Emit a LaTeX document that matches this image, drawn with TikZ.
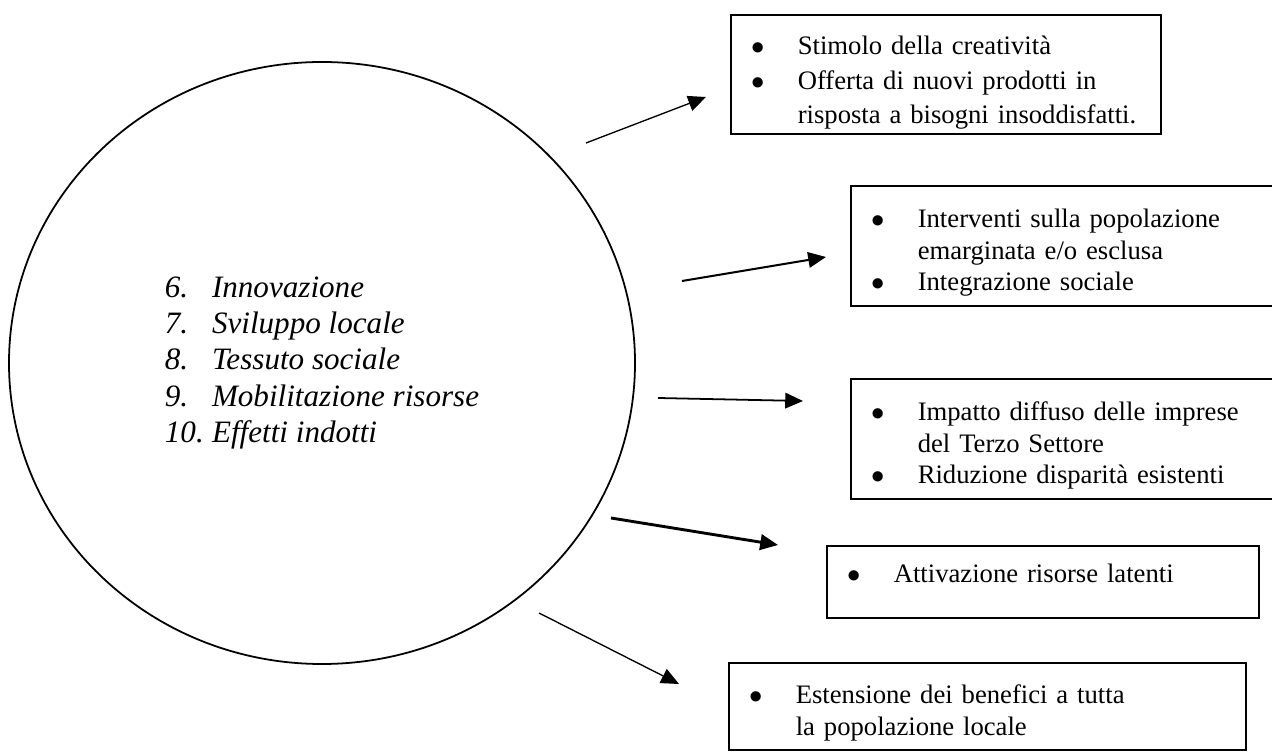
\documentclass[tikz,border=0pt]{standalone}
\usepackage{fontspec}
\setmainfont{Liberation Serif}
\usetikzlibrary{shapes.geometric}
\usetikzlibrary{arrows.meta}

\newcommand{\voce}[1]{\par\noindent\hangindent=30pt\hangafter=1\makebox[30pt][l]{\hspace{9pt}$\bullet$}#1\par}

\begin{document}
\begin{tikzpicture}[x=0.45pt,y=-0.45pt,every node/.style={inner sep=0pt}]

% Define block styles
\tikzstyle{cerchio} = [ellipse, draw, line width=0.8pt, minimum width=281.7pt,
    minimum height=270.9pt, align=left, font=\fontsize{14}{16.3}\selectfont\itshape]
\tikzstyle{box} = [rectangle, draw, line width=1pt, anchor=north west, align=left,
    font=\fontsize{12}{14.2}\selectfont]
\tikzstyle{line} = [draw, -{Triangle[length=8pt,width=7pt]}];

\clip (0,0) rectangle (1272,752);
\fill[white] (0,0) rectangle (1272,752);

\node [cerchio] (temi) at (322,363) {%
  \makebox[21.2pt][l]{6.}Innovazione\\
  \makebox[21.2pt][l]{7.}Sviluppo locale\\
  \makebox[21.2pt][l]{8.}Tessuto sociale\\
  \makebox[21.2pt][l]{9.}Mobilitazione risorse\\
  \makebox[21.2pt][l]{10.}Effetti indotti};

\node [box, text width=193.5pt, minimum height=53.6pt,
    font=\fontsize{12}{15.6}\selectfont] (creativ) at (730,14) {%
  \voce{\rule{0pt}{15pt}Stimolo della creatività}
  \voce{Offerta di nuovi prodotti in\newline risposta a bisogni insoddisfatti.}};
\node [box, text width=202.5pt, minimum height=54pt] (integr) at (850,185) {%
  \voce{Interventi sulla popolazione\newline emarginata e/o esclusa}
  \voce{Integrazione sociale}};
\node [box, text width=202.5pt, minimum height=54pt] (impatto) at (850,378) {%
  \voce{Impatto diffuso delle imprese\newline del Terzo Settore}
  \voce{Riduzione disparità esistenti}};
\node [box, text width=194.4pt, minimum height=32.4pt] (risorse) at (826,545) {%
  \voce{Attivazione risorse latenti}\noindent\mbox{}\par};
\node [box, text width=232.7pt, minimum height=39.2pt] (benefici) at (728,662) {%
  \voce{Estensione dei benefici a tutta\newline la popolazione locale}};

% arrows (free ends)
\coordinate (da1) at (586,143);  \coordinate (a1) at (706,97);
\coordinate (da2) at (682,281);  \coordinate (a2) at (826,257);
\coordinate (da3) at (658,398);  \coordinate (a3) at (803,401);
\coordinate (da4) at (611,518);  \coordinate (a4) at (778,545);
\coordinate (da5) at (539,613);  \coordinate (a5) at (679,684);

\draw[line, line width=0.6pt] (da1) -- (a1);
\draw[line, line width=0.9pt] (da2) -- (a2);
\draw[line, line width=0.8pt] (da3) -- (a3);
\draw[line, line width=1.3pt] (da4) -- (a4);
\draw[line, line width=0.6pt] (da5) -- (a5);

\end{tikzpicture}
\end{document}
